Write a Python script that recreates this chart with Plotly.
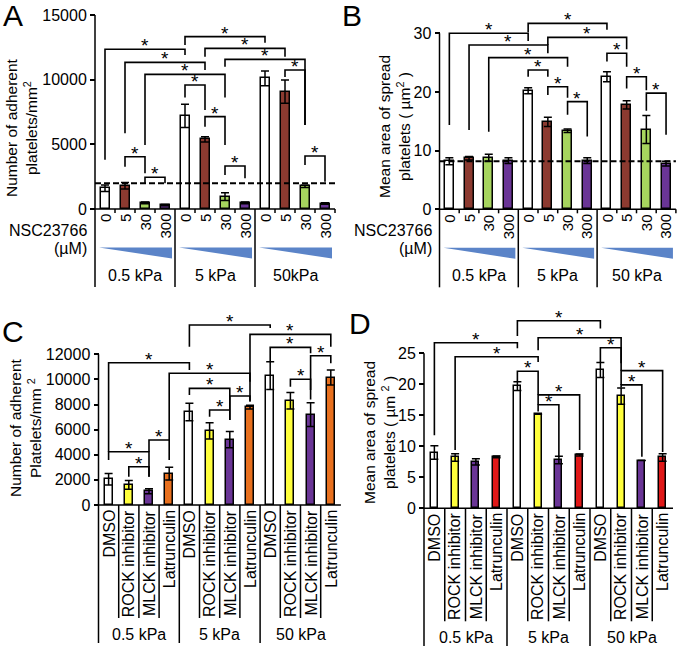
import plotly.graph_objects as go

W, H = 677, 646
FONT = "Liberation Sans, Arial, sans-serif"

# ---------------- data ----------------
dose_labels = ["0", "5", "30", "300"]
kpa_labels_A = ["0.5 kPa", "5 kPa", "50kPa"]
kpa_labels_B = ["0.5 kPa", "5 kPa", "50 kPa"]
kpa_labels_CD = ["0.5 kPa", "5 kPa", "50 kPa"]
treat_labels = ["DMSO", "ROCK inhibitor", "MLCK inhibitor", "Latrunculin"]

A_ticks = [0, 5000, 10000, 15000]
B_ticks = [0, 10, 20, 30]
C_ticks = [0, 2000, 4000, 6000, 8000, 10000, 12000]
D_ticks = [0, 5, 10, 15, 20, 25]

A_mean = [1600, 1800, 480, 300, 7200, 5380, 950, 480, 10100, 9070, 1750, 420]
A_sem = [250, 250, 70, 50, 900, 200, 300, 70, 570, 900, 80, 60]
A_ref = 2000
A_sig = [(0, 4, 12350, 3800, 11900), (4, 8, 13330, 12680, 12860),
         (1, 5, 11340, 5850, 10750), (5, 9, 12420, 11780, 11780),
         (2, 6, 10410, 4950, 8630), (6, 10, 11570, 11000, 6500),
         (4, 5, 9590, 8630, 7650), (5, 6, 7140, 6360, 4950),
         (6, 7, 3330, 2630, 2370), (9, 10, 10750, 10200, 6500),
         (1, 2, 4040, 3270, 2760), (2, 3, 2450, 1990, 1990),
         (10, 11, 4100, 3400, 2110)]

B_mean = [8.2, 8.7, 8.8, 8.3, 20.2, 14.9, 13.4, 8.3, 22.6, 17.8, 13.6, 7.8]
B_sem = [0.6, 0.3, 0.6, 0.5, 0.5, 0.8, 0.3, 0.5, 0.85, 0.7, 2.4, 0.4]
B_ref = 8.2
B_sig = [(0, 4, 30.0, 14.35, 28.7), (4, 8, 31.7, 30.2, 30.6),
         (1, 5, 28.0, 13.5, 26.6), (5, 9, 29.3, 28.0, 27.3),
         (2, 6, 25.85, 13.2, 24.3), (4, 5, 23.75, 22.6, 22.6),
         (5, 6, 20.9, 19.5, 19.0), (6, 7, 18.35, 16.1, 12.4),
         (8, 9, 26.6, 25.2, 24.3), (9, 10, 22.6, 20.6, 20.3),
         (10, 11, 19.8, 16.8, 12.7)]

C_mean = [2050, 1600, 1100, 2500, 7400, 5900, 5200, 7800, 10300, 8300, 7200, 10150]
C_sem = [450, 350, 200, 500, 700, 650, 650, 150, 1100, 650, 950, 600]
C_sig = [(0, 4, 11330, 4240, 10750), (4, 8, 14330, 12610, 14100),
         (7, 11, 13590, 8300, 12610), (8, 10, 12550, 11410, 12090),
         (10, 11, 11890, 8400, 11280), (9, 10, 10010, 9420, 9160),
         (0, 2, 4240, 3580, 2250), (1, 2, 3050, 2250, 2250),
         (2, 3, 5180, 4240, 3580), (3, 7, 10490, 5180, 9815),
         (4, 6, 9290, 8760, 7600), (5, 6, 7565, 7030, 6770),
         (6, 7, 8680, 6770, 8230)]

D_mean = [9.0, 8.2, 7.5, 8.3, 19.7, 15.15, 7.8, 8.6, 22.3, 18.1, 7.7, 8.2]
D_sem = [1.1, 0.6, 0.5, 0.15, 0.7, 0, 0.6, 0.15, 1.2, 1.3, 0, 0.6]
D_sig = [(4, 8, 30.26, 27.8, 29.0), (0, 4, 26.7, 11.8, 25.8),
         (5, 9, 27.5, 25.5, 23.4), (1, 5, 24.45, 9.4, 23.6),
         (4, 5, 22.1, 20.4, 18.3), (8, 9, 25.9, 23.6, 22.2),
         (9, 11, 22.2, 19.9, 9.1), (9, 10, 19.9, 19.5, 8.3),
         (5, 7, 18.3, 16.7, 9.4), (5, 6, 16.7, 15.6, 8.3)]

# ---------------- style ----------------
WHITE, BROWN, GREEN, PURPLE = "#ffffff", "#8c3a30", "#a6d45e", "#6a3596"
YELLOW, ORANGE, RED = "#ffff3c", "#e8701e", "#e01818"
WEDGE = "#5b84c8"

panels = [
    dict(letter="A", mean=A_mean, sem=A_sem, sig=A_sig, ref=A_ref,
         colors=[WHITE, BROWN, GREEN, PURPLE] * 3, xa=95, s=20, y0=209,
         k=194 / 15000, dom=(88, 338, 6, 292), ytop=15000,
         yticks=A_ticks, bw=0.45, kind="dose",
         groups=kpa_labels_A, title="Number of adherent<br>platelets/mm<sup>2</sup>",
         title_xy=(21, 128), letter_xy=(13, 16)),
    dict(letter="B", mean=B_mean, sem=B_sem, sig=B_sig, ref=B_ref,
         colors=[WHITE, BROWN, GREEN, PURPLE] * 3, xa=439.5, s=19.7, y0=209.3,
         k=176 / 30, dom=(432, 677, 6, 292), ytop=30,
         yticks=B_ticks, bw=0.46, kind="dose",
         groups=kpa_labels_B, title="Mean area of spread<br>platelets ( µm<sup>2</sup> )",
         title_xy=(394, 127), letter_xy=(352, 16)),
    dict(letter="C", mean=C_mean, sem=C_sem, sig=C_sig, ref=None,
         colors=[WHITE, YELLOW, PURPLE, ORANGE] * 3, xa=98.5, s=20.2, y0=505,
         k=150.7 / 12000, dom=(92, 343, 305, 646), ytop=12000,
         yticks=C_ticks, bw=0.4, kind="treat",
         groups=kpa_labels_CD, title="Number of adherent<br>Platelets/mm <sup>2</sup>",
         title_xy=(25, 428), letter_xy=(13, 331)),
    dict(letter="D", mean=D_mean, sem=D_sem, sig=D_sig, ref=None,
         colors=[WHITE, YELLOW, PURPLE, RED] * 3, xa=424, s=20.75, y0=508.3,
         k=155 / 25, dom=(418, 677, 305, 646), ytop=25,
         yticks=D_ticks, bw=0.34, kind="treat",
         groups=kpa_labels_CD, title="Mean area of spread<br>platelets ( µm <sup>2</sup> )",
         title_xy=(380, 432), letter_xy=(360, 323)),
]

fig = go.Figure()
shapes, annots = [], []
layout = {}

for n, p in enumerate(panels, start=1):
    xr = "x" if n == 1 else f"x{n}"
    yr = "y" if n == 1 else f"y{n}"
    xkey = "xaxis" if n == 1 else f"xaxis{n}"
    ykey = "yaxis" if n == 1 else f"yaxis{n}"
    dl, dr, dt, db = p["dom"]
    xa, s, y0, k = p["xa"], p["s"], p["y0"], p["k"]
    xrange = [(dl - xa) / s - 0.5, (dr - xa) / s - 0.5]
    yrange = [(y0 - db) / k, (y0 - dt) / k]
    layout[xkey] = dict(domain=[dl / W, dr / W], range=xrange, visible=False,
                        fixedrange=True)
    layout[ykey] = dict(domain=[1 - db / H, 1 - dt / H], range=yrange,
                        anchor="free", position=xa / W, tickvals=p["yticks"],
                        ticktext=[str(t) for t in p["yticks"]],
                        ticks="outside", ticklen=5, tickwidth=1.5,
                        tickcolor="black", showline=False, showgrid=False,
                        zeroline=False, tickfont=dict(family=FONT, size=16,
                                                      color="black"),
                        fixedrange=True)

    def dpx(px, k=k):
        return px / k

    def seg(x0, ya, x1, yb, w=1.5, dash=None, xr=xr, yr=yr):
        ln = dict(color="black", width=w)
        if dash:
            ln["dash"] = dash
        shapes.append(dict(type="line", xref=xr, yref=yr, x0=x0, y0=ya,
                           x1=x1, y1=yb, line=ln, layer="above"))

    n_bars = len(p["mean"])
    fig.add_trace(go.Bar(
        x=list(range(n_bars)), y=p["mean"], width=p["bw"],
        marker=dict(color=p["colors"], line=dict(color="black", width=1.5)),
        error_y=dict(type="data", array=p["sem"], color="black",
                     thickness=1.5, width=4),
        xaxis=xr, yaxis=yr, showlegend=False, hoverinfo="skip"))

    # axes lines
    sep_depth = 78 if p["kind"] == "dose" else 138
    seg(-0.5, p["ytop"], -0.5, -dpx(sep_depth))
    seg(-0.5, 0, n_bars - 0.5, 0)

    # boundaries / separators
    for b in range(n_bars - 1):
        xb = b + 0.5
        if (b + 1) % 4 == 0:
            seg(xb, 0, xb, -dpx(sep_depth))
        elif p["kind"] == "dose":
            seg(xb, 0, xb, -dpx(4))
        else:
            seg(xb, 0, xb, -dpx(113))
    if p["kind"] == "dose":
        seg(n_bars - 0.5, 0, n_bars - 0.5, -dpx(4))

    # reference dashed line
    if p["ref"] is not None:
        seg(-0.5, p["ref"], n_bars - 0.5, p["ref"], w=2, dash="6px,3px")

    # significance brackets
    for (i, j, top, lb, rb) in p["sig"]:
        shapes.append(dict(type="path", xref=xr, yref=yr,
                           path=f"M {i},{lb} L {i},{top} L {j},{top} L {j},{rb}",
                           line=dict(color="black", width=1.6), layer="above"))
        annots.append(dict(x=(i + j) / 2, y=top, xref=xr, yref=yr, text="*",
                           showarrow=False, yanchor="bottom", yshift=-9,
                           font=dict(family=FONT, size=19, color="black")))

    # category labels
    if p["kind"] == "dose":
        for b in range(n_bars):
            annots.append(dict(x=b, y=0, xref=xr, yref=yr,
                               text=dose_labels[b % 4], textangle=-90,
                               showarrow=False, xanchor="center", yanchor="top",
                               yshift=-3,
                               font=dict(family=FONT, size=15, color="black")))
        for g in range(3):
            x0w, x1w = g * 4 - 0.3, g * 4 + 3.35
            yt, yb = -dpx(38.5), -dpx(49.5)
            shapes.append(dict(type="path", xref=xr, yref=yr,
                               path=f"M {x0w},{yt} L {x1w},{yt} L {x1w},{yb} Z",
                               fillcolor=WEDGE, line=dict(width=0),
                               layer="above"))
            annots.append(dict(x=g * 4 + 1.5, y=-dpx(66.5), xref=xr, yref=yr,
                               text=p["groups"][g], showarrow=False,
                               xanchor="center", yanchor="middle",
                               font=dict(family=FONT, size=16, color="black")))
        annots.append(dict(x=(xa - 6) / W, y=1 - (y0 + 21.5) / H, xref="paper",
                           yref="paper", text="NSC23766", showarrow=False,
                           xanchor="right", yanchor="middle",
                           font=dict(family=FONT, size=16, color="black")))
        annots.append(dict(x=(xa - 6) / W, y=1 - (y0 + 39) / H, xref="paper",
                           yref="paper", text="(µM)", showarrow=False,
                           xanchor="right", yanchor="middle",
                           font=dict(family=FONT, size=16, color="black")))
    else:
        for b in range(n_bars):
            annots.append(dict(x=b, y=0, xref=xr, yref=yr,
                               text=treat_labels[b % 4], textangle=-90,
                               showarrow=False, xanchor="center", yanchor="top",
                               yshift=-3,
                               font=dict(family=FONT, size=16, color="black")))
        for g in range(3):
            annots.append(dict(x=g * 4 + 1.5, y=-dpx(129), xref=xr, yref=yr,
                               text=p["groups"][g], showarrow=False,
                               xanchor="center", yanchor="middle",
                               font=dict(family=FONT, size=16, color="black")))

    # y title
    tx, ty = p["title_xy"]
    annots.append(dict(x=tx / W, y=1 - ty / H, xref="paper", yref="paper",
                       text=p["title"], textangle=-90, showarrow=False,
                       xanchor="center", yanchor="middle",
                       font=dict(family=FONT, size=15.5, color="black")))
    # panel letter
    lx, ly = p["letter_xy"]
    annots.append(dict(x=lx / W, y=1 - ly / H, xref="paper", yref="paper",
                       text=p["letter"], showarrow=False, xanchor="center",
                       yanchor="middle", borderpad=0,
                       font=dict(family=FONT, size=30, color="black")))

fig.update_layout(width=W, height=H, margin=dict(l=0, r=0, t=0, b=0),
                  paper_bgcolor="white", plot_bgcolor="rgba(0,0,0,0)",
                  showlegend=False, shapes=shapes, annotations=annots,
                  bargap=0, font=dict(family=FONT), **layout)

fig.write_html("out.html", config={"displayModeBar": False},
               post_script="document.body.style.margin='0px';"
                           "document.body.style.overflow='hidden';")
